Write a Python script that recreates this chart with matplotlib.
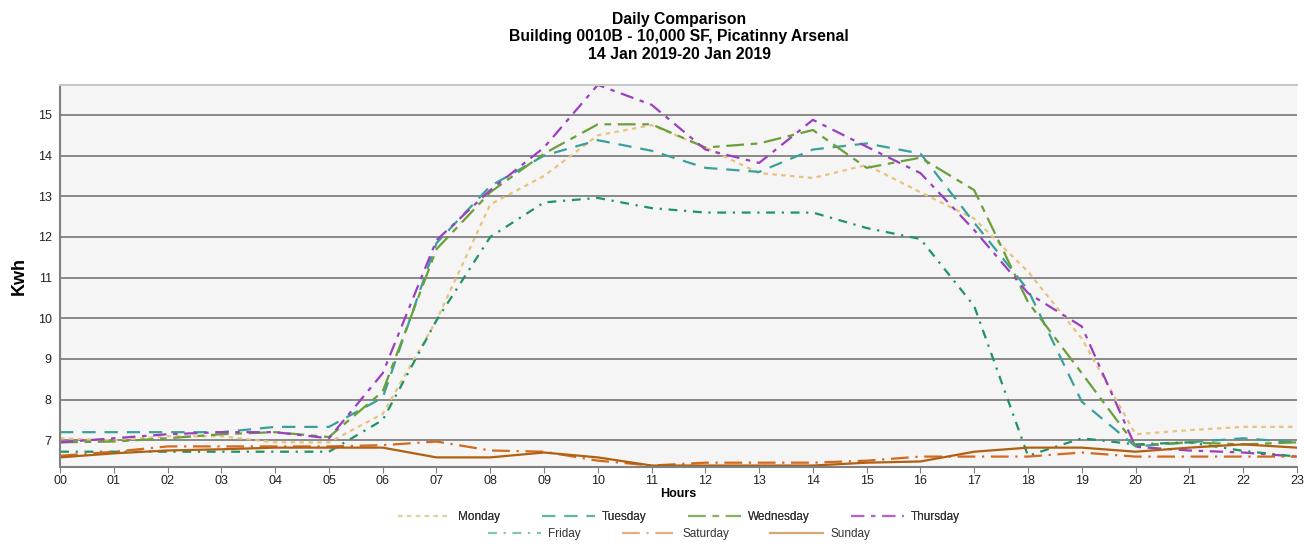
import numpy as np
import matplotlib
matplotlib.use("Agg")
import matplotlib.pyplot as plt
from matplotlib.lines import Line2D

plt.rcParams['font.family'] = ['Liberation Sans', 'DejaVu Sans']

hours = ["%02d" % h for h in range(24)]

monday = [7.05, 7.0, 7.1, 7.1, 6.95, 6.95, 7.65, 9.95, 12.8, 13.5, 14.5, 14.75,
          14.2, 13.57, 13.45, 13.77, 13.1, 12.45, 11.15, 9.5, 7.15, 7.25, 7.33, 7.33]
tuesday = [7.2, 7.2, 7.2, 7.2, 7.33, 7.33, 8.05, 11.85, 13.25, 14.0, 14.38, 14.12,
           13.7, 13.6, 14.15, 14.3, 14.05, 12.35, 10.7, 7.95, 6.85, 6.95, 7.05, 6.95]
wednesday = [6.95, 6.97, 7.05, 7.15, 7.2, 7.08, 8.2, 11.7, 13.1, 14.05, 14.77, 14.77,
             14.2, 14.3, 14.63, 13.7, 13.95, 13.15, 10.4, 8.65, 6.88, 6.95, 6.9, 6.95]
thursday = [6.95, 7.05, 7.15, 7.2, 7.2, 7.05, 8.65, 11.92, 13.15, 14.2, 15.74, 15.25,
            14.15, 13.82, 14.88, 14.22, 13.57, 12.17, 10.62, 9.8, 6.84, 6.75, 6.7, 6.6]
friday = [6.72, 6.72, 6.72, 6.72, 6.72, 6.72, 7.5, 9.95, 12.0, 12.85, 12.96, 12.71,
          12.6, 12.6, 12.6, 12.22, 11.95, 10.3, 6.62, 7.05, 6.9, 6.95, 6.74, 6.6]
saturday = [6.62, 6.72, 6.85, 6.85, 6.85, 6.85, 6.88, 6.97, 6.75, 6.72, 6.5, 6.38,
            6.45, 6.45, 6.45, 6.5, 6.6, 6.6, 6.6, 6.7, 6.6, 6.6, 6.6, 6.6]
sunday = [6.58, 6.68, 6.75, 6.78, 6.82, 6.82, 6.82, 6.58, 6.58, 6.7, 6.58, 6.38,
          6.38, 6.38, 6.38, 6.45, 6.48, 6.72, 6.82, 6.82, 6.72, 6.82, 6.9, 6.82]

days = ["Monday", "Tuesday", "Wednesday", "Thursday", "Friday", "Saturday", "Sunday"]
series = [monday, tuesday, wednesday, thursday, friday, saturday, sunday]
colors = ["#e6c37f", "#3aa09a", "#6a9f3a", "#9b3fc0", "#1e9466", "#d2691e", "#b06010"]
styles = [(0, (2, 2)), (0, (6, 4)), (0, (8, 3, 3, 3)), (0, (6, 3, 2, 3)),
          (0, (4, 3, 1, 3)), (0, (8, 3, 1, 3)), "-"]

fig = plt.figure(figsize=(13.06, 5.44), dpi=100)
ax = fig.add_axes([0.046, 0.142, 0.947, 0.702])
ax.set_facecolor("#f5f5f5")

x = np.arange(24)
for vals, c, ls, name in zip(series, colors, styles, days):
    ax.plot(x, vals, color=c, linestyle=ls, linewidth=1.6, label=name)

ax.set_xlim(0, 23)
ax.set_ylim(6.35, 15.74)
ax.set_xticks(x)
ax.set_xticklabels(hours, fontsize=9, color="#222222")
ax.set_yticks(range(7, 16))
ax.set_yticklabels([str(v) for v in range(7, 16)], fontsize=9, color="#222222")
ax.tick_params(axis='y', length=0, pad=6)
ax.tick_params(axis='x', length=4, color="#808080", pad=2)
ax.grid(axis='y', color="#808080", linewidth=1.3)
ax.set_axisbelow(True)
for s in ["left", "bottom"]:
    ax.spines[s].set_color("#808080")
    ax.spines[s].set_linewidth(1.5)
ax.spines["top"].set_color("#c8c8c8")
ax.spines["top"].set_linewidth(1.5)
ax.spines["right"].set_visible(False)

ax.set_xlabel("Hours", fontsize=9, fontweight="bold", labelpad=1)
ax.set_ylabel("Kwh", fontsize=13, fontweight="bold", labelpad=7)

fig.text(0.52, 0.978, "Daily Comparison\nBuilding 0010B - 10,000 SF, Picatinny Arsenal\n14 Jan 2019-20 Jan 2019",
         ha="center", va="top", fontsize=11.3, fontweight="bold", linespacing=1.2)

# legend: 4 items in top row, 3 in bottom row
def handles(idx):
    return [Line2D([], [], color=colors[i], linestyle=styles[i], linewidth=1.6, alpha=0.55)
            for i in idx]

leg1 = fig.legend(handles(range(4)), days[:4], ncol=4, loc="center",
                  bbox_to_anchor=(0.52, 0.05), frameon=False, fontsize=8.5,
                  handlelength=4.5, columnspacing=3.5, handletextpad=0.6,
                  labelcolor="#333333")
leg2 = fig.legend(handles(range(4, 7)), days[4:], ncol=3, loc="center",
                  bbox_to_anchor=(0.52, 0.018), frameon=False, fontsize=8.5,
                  handlelength=4.5, columnspacing=3.5, handletextpad=0.6,
                  labelcolor="#333333")
fig.add_artist(leg1)

fig.savefig("out.png", dpi=100)
